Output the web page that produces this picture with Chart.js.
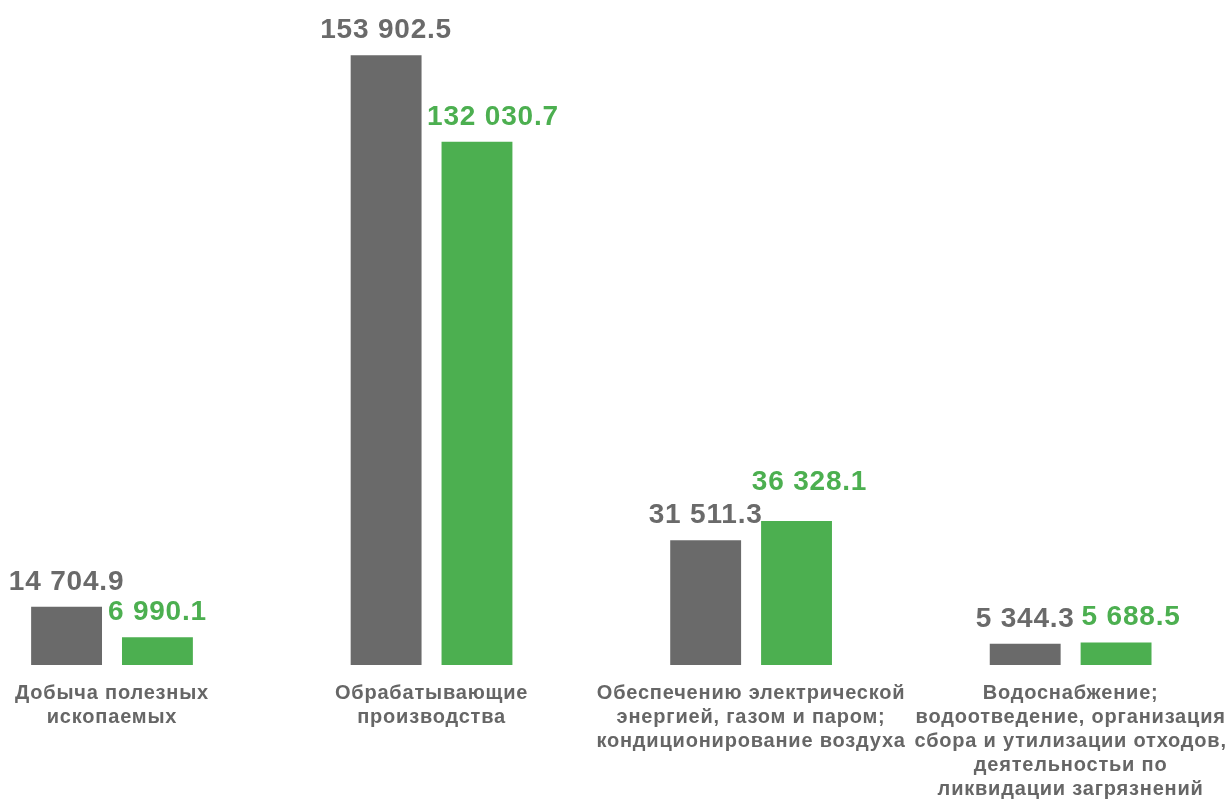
<!DOCTYPE html>
<html>
<head>
<meta charset="utf-8">
<script src="https://cdn.jsdelivr.net/npm/chart.js@4"></script>
<style>
    html, body { margin: 0; padding: 0; background: #fff; }
    #wrap { width: 1232px; height: 801px; }
</style>
</head>
<body>
<div id="wrap"><canvas id="chart"></canvas></div>
<script>
    // Categories (multi-line labels)
    var categories = [
        ['Добыча полезных', 'ископаемых'],
        ['Обрабатывающие', 'производства'],
        ['Обеспечению электрической', 'энергией, газом и паром;', 'кондиционирование воздуха'],
        ['Водоснабжение;', 'водоотведение, организация', 'сбора и утилизации отходов,', 'деятельностьи по', 'ликвидации загрязнений']
    ];

    // Series values
    var seriesGray = [14704.9, 153902.5, 31511.3, 5344.3];
    var seriesGreen = [6990.1, 132030.7, 36328.1, 5688.5];

    var GRAY = '#6a6a6a';
    var GREEN = '#4caf50';
    var FONT = '"Liberation Sans", Arial, sans-serif';

    /**
     * Format number as "153 902.5"
     */
    function formatValue(v) {
        var parts = v.toFixed(1).split('.');
        return parts[0].replace(/\B(?=(\d{3})+(?!\d))/g, ' ') + '.' + parts[1];
    }

    // Label nudges to keep neighbours from colliding, per dataset / category
    var labelShift = [
        [[0, 0], [0, 0], [0, 0], [0, 0]],
        [[0, 0], [16, 0], [13, -14], [15, 0]]
    ];

    // Slightly wider text, as in the original
    var spacing = {
        id: 'spacing',
        beforeDraw: function(chart) {
            chart.ctx.letterSpacing = '0.8px';
        }
    };

    var valueLabels = {
        id: 'valueLabels',
        afterDatasetsDraw: function(chart) {
            var ctx = chart.ctx;
            ctx.save();
            ctx.letterSpacing = '0.8px';
            ctx.font = 'bold 28px ' + FONT;
            ctx.textAlign = 'center';
            ctx.textBaseline = 'alphabetic';
            chart.data.datasets.forEach(function(ds, di) {
                var meta = chart.getDatasetMeta(di);
                ctx.fillStyle = ds.backgroundColor;
                meta.data.forEach(function(bar, i) {
                    var s = labelShift[di][i];
                    ctx.fillText(formatValue(ds.data[i]), bar.x + s[0], bar.y - 17 + s[1]);
                });
            });
            ctx.restore();
        }
    };

    new Chart(document.getElementById('chart'), {
        type: 'bar',
        data: {
            labels: categories,
            datasets: [{
                data: seriesGray,
                backgroundColor: GRAY,
                clip: false
            }, {
                data: seriesGreen,
                backgroundColor: GREEN,
                clip: false
            }]
        },
        options: {
            responsive: true,
            maintainAspectRatio: false,
            animation: false,
            categoryPercentage: 0.56875,
            barPercentage: 0.78,
            layout: {
                padding: { top: 31, left: 112, right: 160, bottom: 0 }
            },
            plugins: {
                legend: { display: false },
                tooltip: { enabled: false }
            },
            scales: {
                x: {
                    offset: false,
                    grid: { display: false, drawTicks: false },
                    border: { display: false },
                    ticks: {
                        color: '#666666',
                        font: { family: FONT, size: 20, weight: 'bold', lineHeight: 1.2 },
                        padding: 16,
                        maxRotation: 0,
                        autoSkip: false
                    },
                    afterFit: function(scale) {
                        scale.height = 136;
                    }
                },
                y: {
                    display: false,
                    min: 0,
                    max: 160000
                }
            }
        },
        plugins: [spacing, valueLabels]
    });
</script>
</body>
</html>
